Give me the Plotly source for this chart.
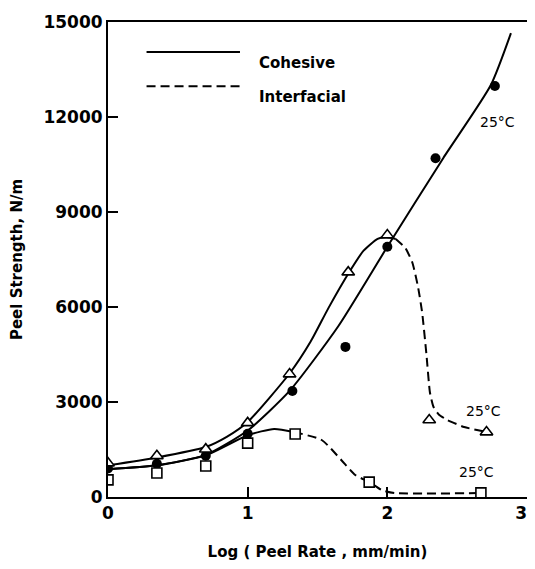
import plotly.graph_objects as go

# ---- data ----
circle_x = [0.0, 0.35, 0.70, 1.0, 1.32, 1.70, 2.0, 2.345, 2.77]
circle_y = [900, 1050, 1300, 2000, 3350, 4740, 7900, 10700, 12980]

triangle_x = [0.0, 0.35, 0.70, 1.0, 1.30, 1.72, 2.0, 2.30, 2.71]
triangle_y = [1070, 1300, 1510, 2340, 3880, 7100, 8270, 2430, 2050]

square_x = [0.0, 0.35, 0.70, 1.0, 1.34, 1.87, 2.67]
square_y = [540, 760, 980, 1700, 1990, 470, 130]

# fitted curves
coh_curve_x = [0.0, 0.35, 0.70, 1.0, 1.30, 1.65, 2.0, 2.40, 2.74, 2.885]
coh_curve_y = [880, 1000, 1330, 2100, 3350, 5400, 7900, 10700, 13000, 14650]

tri_solid_x = [0.0, 0.35, 0.70, 0.85, 1.0, 1.30, 1.45, 1.58, 1.73, 1.83, 1.93, 1.99, 2.06]
tri_solid_y = [1000, 1250, 1580, 1900, 2370, 3900, 4900, 5980, 7120, 7780, 8150, 8210, 8150]
tri_dash_x = [2.06, 2.13, 2.18, 2.22, 2.25, 2.28, 2.305, 2.33, 2.37, 2.43, 2.55, 2.71]
tri_dash_y = [8150, 7860, 7390, 6630, 5800, 4500, 3300, 2850, 2600, 2430, 2210, 2053]

sq_solid_x = [0.0, 0.35, 0.70, 1.0, 1.19, 1.33]
sq_solid_y = [880, 1000, 1320, 1950, 2150, 2050]
sq_dash_x = [1.33, 1.53, 1.67, 1.77, 1.87, 1.96, 2.05, 2.67]
sq_dash_y = [2050, 1800, 1170, 695, 474, 220, 126, 126]

temp_label = "25°C"
temp_label_x = [2.79, 2.69, 2.64]
temp_label_y = [11850, 2720, 790]

y_ticks = [0, 3000, 6000, 9000, 12000, 15000]
y_tick_text = ["0", "3000", "6000", "9000", "12000", "15000"]
x_ticks = [0, 1, 2, 3]
x_tick_text = ["0", "1", "2", "3\u00a0\u00a0"]
legend_names = ["Cohesive", "Interfacial"]

FONT = "DejaVu Sans"
BLACK = "black"

fig = go.Figure()

def line(x, y, dash="solid", smooth=0.6):
    fig.add_trace(go.Scatter(x=x, y=y, mode="lines",
                             line=dict(color=BLACK, width=2, dash=dash, shape="spline", smoothing=smooth),
                             showlegend=False, hoverinfo="skip"))

line(coh_curve_x, coh_curve_y)
line(tri_solid_x, tri_solid_y)
line(tri_dash_x, tri_dash_y, dash="9px,5px", smooth=0.5)
line(sq_solid_x, sq_solid_y)
line(sq_dash_x, sq_dash_y, dash="9px,5px")

fig.add_trace(go.Scatter(x=circle_x, y=circle_y, mode="markers",
                         marker=dict(symbol="circle", size=10, color=BLACK),
                         showlegend=False))
fig.add_trace(go.Scatter(x=triangle_x, y=triangle_y, mode="markers",
                         marker=dict(symbol="triangle-up", size=11, color="white",
                                     line=dict(width=1.6, color=BLACK)),
                         showlegend=False))
fig.add_trace(go.Scatter(x=square_x, y=square_y, mode="markers",
                         marker=dict(symbol="square", size=10, color="white",
                                     line=dict(width=1.6, color=BLACK)),
                         showlegend=False))

for tx, ty in zip(temp_label_x, temp_label_y):
    fig.add_annotation(x=tx, y=ty, text=temp_label, showarrow=False,
                       font=dict(family=FONT, size=14, color=BLACK))

# legend drawn by hand
leg_y = [0.937, 0.865]
for i, (name, dash) in enumerate(zip(legend_names, ["solid", "9px,5px"])):
    fig.add_shape(type="line", xref="paper", yref="paper",
                  x0=0.092, x1=0.315, y0=leg_y[i], y1=leg_y[i],
                  line=dict(color=BLACK, width=2, dash=dash))
    fig.add_annotation(xref="paper", yref="paper", x=0.355, y=leg_y[i], text=name,
                       showarrow=False, xanchor="left",
                       font=dict(family=FONT, size=15, color=BLACK, weight="bold"))

axis_common = dict(showgrid=False, zeroline=False, showline=True, linecolor=BLACK,
                   linewidth=2, mirror=True, ticks="inside", ticklen=10, tickwidth=2,
                   tickcolor=BLACK, automargin=False, ticklabeloverflow="allow",
                   tickfont=dict(family=FONT, size=17, color=BLACK, weight="bold"))

fig.update_xaxes(range=[0, 3], tickvals=x_ticks, ticktext=x_tick_text, tickmode="array",
                 title=dict(text="Log ( Peel Rate , mm/min)",
                            font=dict(family=FONT, size=15, color=BLACK, weight="bold"), standoff=27),
                 **axis_common)
fig.update_yaxes(range=[0, 15000], tickvals=y_ticks, ticktext=y_tick_text, tickmode="array",
                 title=dict(text="Peel Strength, N/m",
                            font=dict(family=FONT, size=15, color=BLACK, weight="bold"), standoff=28),
                 **axis_common)

# page body adds an 8px offset; size the figure so that no scrollbar appears
fig.update_layout(width=527, height=553, margin=dict(l=100, r=8, t=14, b=64),
                  paper_bgcolor="white", plot_bgcolor="white",
                  font=dict(family=FONT, color=BLACK))

fig.write_html("out.html")
